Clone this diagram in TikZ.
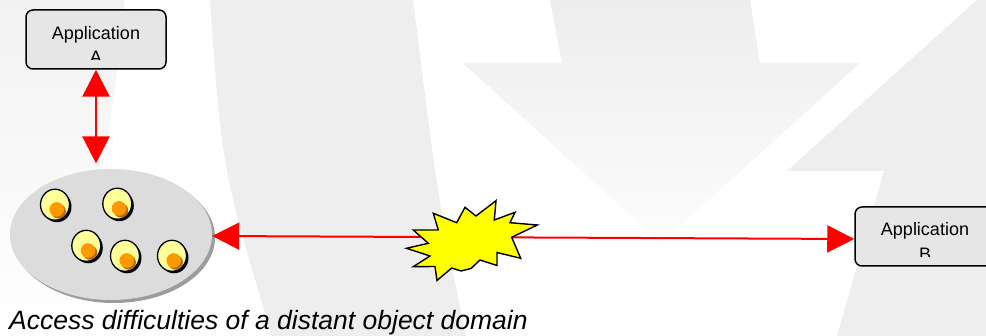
\documentclass[tikz,border=0pt]{standalone}
\usepackage{fontspec}
\setmainfont{Liberation Sans}
\usetikzlibrary{arrows.meta,shapes.geometric}

\definecolor{wmgrey}{HTML}{EEEEEE}
\definecolor{boxfill}{HTML}{E6E6E6}
\definecolor{domainfill}{HTML}{DCDCDC}
\definecolor{domainshadow}{HTML}{9C9C9C}
\definecolor{objfill}{HTML}{FFFF99}
\definecolor{dotfill}{HTML}{FF9900}
\definecolor{dotshadow}{HTML}{B86A00}
\definecolor{linkred}{HTML}{FF0000}
\definecolor{burstfill}{HTML}{FFFF00}

\tikzset{
  appbox/.style={draw=black, line width=1.5pt, fill=boxfill, rounded corners=7pt,
    minimum width=140pt, minimum height=59pt, inner sep=0pt},
  apptext/.style={anchor=base, inner sep=0pt, font=\fontsize{18}{21}\selectfont},
  domainshape/.style={ellipse, fill=domainfill, minimum width=202pt, minimum height=131pt, inner sep=0pt},
  biglink/.style={draw=linkred, line width=2.5pt,
    {Triangle[length=27pt,width=27pt]}-{Triangle[length=27pt,width=27pt]}},
  redlink/.style={draw=linkred, line width=2pt,
    {Triangle[length=27pt,width=27pt]}-{Triangle[length=27pt,width=27pt]}},
  burstshape/.style={fill=burstfill, draw=black, line width=1.4pt, line join=miter},
  domobject/.pic={
    \fill[black] (2,2) ellipse [x radius=14.5, y radius=15.5];
    \draw[fill=objfill, line width=1.3pt] (0,0) ellipse [x radius=14.5, y radius=15.5];
    \fill[dotshadow] (3.6,6.6) circle (7.3);
    \fill[dotfill] (1.7,4.7) circle (7.3);
  }
}

\begin{document}
\begin{tikzpicture}[x=1pt, y=-1pt]
  \useasboundingbox (0,0) rectangle (986,336);
  \fill[white] (0,0) rectangle (986,336);

  % faint watermark shapes behind the diagram
  \shade[top color=black!5, bottom color=white] (0,0) -- (125,0) .. controls (112,120) .. (70,336) -- (0,336) -- cycle;
  \fill[wmgrey] (210,0) .. controls (222,170) .. (272,336) -- (466,336) .. controls (438,200) .. (413,0) -- cycle;
  \shade[top color=black!7, bottom color=black!1]
    (550,0) -- (750,0) -- (760,63) -- (860,63) -- (661,243) -- (463,63) -- (562,63) -- cycle;
  \fill[wmgrey] (977,0) -- (986,0) -- (986,336) -- (837,336) -- (884,171) -- (787,171) -- cycle;

  % application A
  \node[appbox] (appA) at (96,39.5) {};
  \begin{scope}
    \clip (26,10) rectangle (166,59.5);
    \node[apptext] (appAname) at (96,39.3) {Application};
    \node[apptext] (appAletter) at (96,63.5) {A};
  \end{scope}

  % application B, partly beyond the right edge
  \node[appbox] (appB) at (925,236.5) {};
  \begin{scope}
    \clip (855,207) rectangle (995,256.5);
    \node[apptext] (appBname) at (925,235.7) {Application};
    \node[apptext] (appBletter) at (925,260.5) {B};
  \end{scope}

  % object domain with its shadow
  \fill[domainshadow] (114,237.5) ellipse [x radius=101, y radius=65.5];
  \node[domainshape] (dom) at (111,234.5) {};

  % objects in the domain
  \pic at (55,204.7) {domobject};
  \pic at (117.3,203.7) {domobject};
  \pic at (86.3,245.8) {domobject};
  \pic at (125,255.8) {domobject};
  \pic at (172,255.8) {domobject};

  % links
  \draw[biglink, shorten >=5.4pt] (appA.south) -- (appA.south |- dom.north);
  \draw[redlink] ([yshift=-1.5pt]dom.east) -- ([yshift=-2.5pt]appB.west);

  % broken connection
  \path[burstshape] (433.3,213.3) -- (456.7,222.7) -- (465,207.3) -- (476,216) -- (496,200.7)
    -- (494.3,220) -- (515,212.3) -- (510,222.7) -- (537.3,225) -- (511.7,237.3)
    -- (520.7,258.3) -- (497,252.5) -- (497,265.5) -- (480,260) -- (471,268.5)
    -- (461,271) -- (451.7,268) -- (437,280.5) -- (435,266.5) -- (413.3,266.7)
    -- (430,256) -- (406.5,248.3) -- (428.3,243.3) -- (413.3,230) -- (438.3,230) -- cycle;

  % caption
  \node[anchor=base west, inner sep=0pt, font=\fontsize{26.5}{31}\selectfont\itshape] (caption) at (9,329.5)
    {Access difficulties of a distant object domain};
\end{tikzpicture}
\end{document}
